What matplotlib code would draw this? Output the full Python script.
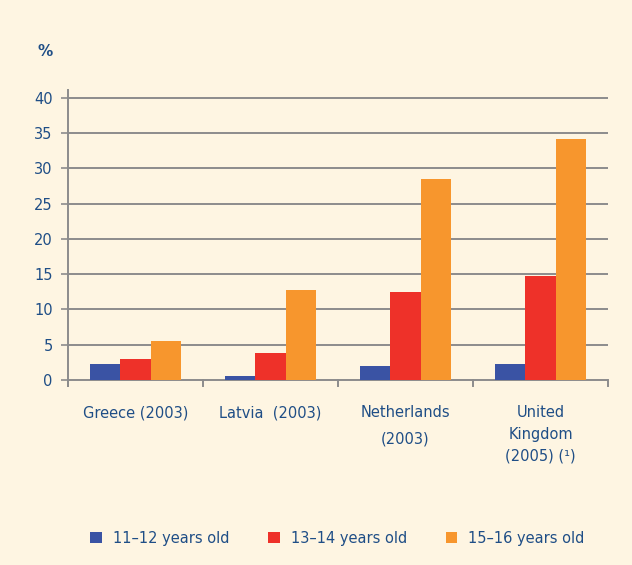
import matplotlib.pyplot as plt
import numpy as np

countries = ['Greece (2003)', 'Latvia  (2003)', 'Netherlands\n(2003)', 'United\nKingdom\n(2005) (\u00b9)']
age_groups = ['11\u201312 years old', '13\u201314 years old', '15\u201316 years old']
age_11_12 = [2.3, 0.5, 2.0, 2.3]
age_13_14 = [3.0, 3.8, 12.5, 14.7]
age_15_16 = [5.5, 12.8, 28.5, 34.2]
yticks = [0, 5, 10, 15, 20, 25, 30, 35, 40]

bg = '#FEF5E2'
txt = '#1F4E86'
grid_c = '#8C8C8C'
colors = ['#3A53A4', '#EE3129', '#F7962D']

plt.rcParams['font.family'] = ['DejaVu Sans']

fig = plt.figure(figsize=(6.32, 5.65), dpi=100, facecolor=bg)
ax = fig.add_axes([68/632, 1 - 386/565, 540/632, 296/565])
ax.set_facecolor(bg)

x = np.arange(len(countries))
w = 0.225
for i, (vals, lab) in enumerate(zip([age_11_12, age_13_14, age_15_16], age_groups)):
    ax.bar(x + (i - 1) * w, vals, width=w, color=colors[i], label=lab, zorder=3)

ax.set_xlim(-0.5, len(countries) - 0.5)
ax.set_ylim(-0.85, 41.1)

# gridlines (including the zero line)
for t in yticks:
    ax.axhline(t, color=grid_c, lw=1.4, zorder=2)

for s in ['top', 'right', 'bottom']:
    ax.spines[s].set_visible(False)
ax.spines['left'].set_color(grid_c)
ax.spines['left'].set_linewidth(1.4)

ax.set_yticks(yticks)
ax.set_yticklabels([str(t) for t in yticks], color=txt, fontsize=10.5)
ax.tick_params(axis='y', length=5, width=1.2, color=grid_c, pad=6)

# category boundary ticks on the zero line
bounds = np.arange(len(countries) + 1) - 0.5
for b in bounds:
    ax.plot([b, b], [0, -0.85], color=grid_c, lw=1.4, clip_on=False, zorder=2)

ax.set_xticks(x)
ax.set_xticklabels(countries, color=txt, fontsize=10.5)
ax.tick_params(axis='x', length=0, pad=14)
spacings = [1.0, 1.9, 1.9, 1.55]
for lab, sp in zip(ax.get_xticklabels(), spacings):
    lab.set_linespacing(sp)
    lab.set_verticalalignment('top')

fig.text(45/632, 1 - 52/565, '%', color=txt, fontsize=11, fontweight='bold',
         ha='center', va='center')

leg = fig.legend(loc='center', bbox_to_anchor=(0.534, 1 - 538/565), ncol=3,
                 frameon=False, handlelength=0.8, handleheight=0.8,
                 columnspacing=2.65, handletextpad=0.75, fontsize=10.5)
for t in leg.get_texts():
    t.set_color(txt)

fig.savefig('out.png', dpi=100, facecolor=bg)
